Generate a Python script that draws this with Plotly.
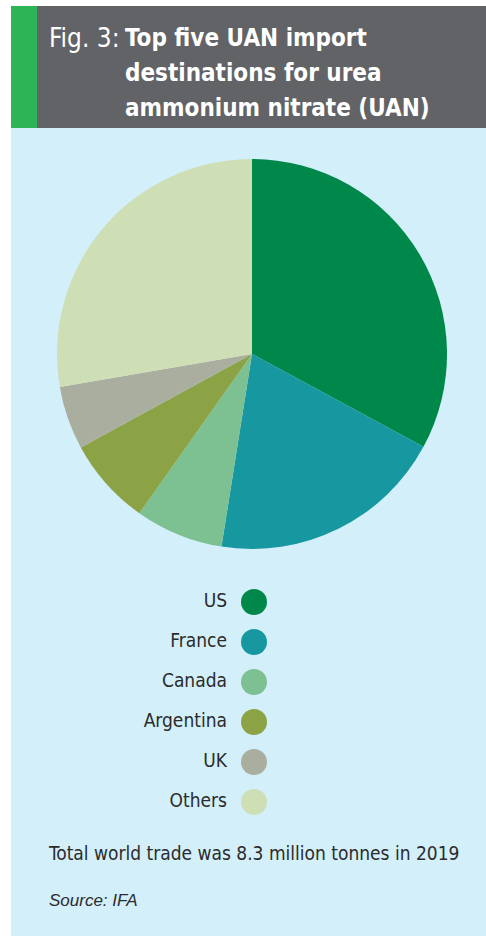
import plotly.graph_objects as go

countries = ["US", "France", "Canada", "Argentina", "UK", "Others"]
shares = [32.9, 19.6, 7.3, 7.25, 5.25, 27.7]
colors = ["#00884A", "#1797A0", "#7DC092", "#8CA345", "#A9AE9E", "#CFDFB5"]

W, H = 486, 936
NARROW = "'DejaVu Sans Condensed', 'Liberation Sans Narrow', 'Arial Narrow', sans-serif"

def px(x):
    return x / W

def py(y):
    return 1 - y / H

fig = go.Figure()

cx, cy, r = 252, 354, 195
fig.add_trace(go.Pie(
    labels=countries, values=shares, sort=False, direction="clockwise",
    rotation=0, textinfo="none", hoverinfo="label+percent",
    marker=dict(colors=colors, line=dict(width=0)),
    domain=dict(x=[px(cx - r), px(cx + r)], y=[py(cy + r), py(cy - r)]),
    showlegend=False,
))

rows = list(range(len(countries)))
# legend markers
fig.add_trace(go.Scatter(
    x=[0] * len(countries), y=rows, mode="markers",
    marker=dict(size=26, color=colors, line=dict(width=0)),
    hoverinfo="skip", showlegend=False, cliponaxis=False,
))
# legend labels (right-aligned, left of markers)
fig.add_trace(go.Scatter(
    x=[-0.27] * len(countries), y=rows, mode="text", text=countries,
    textposition="middle left",
    textfont=dict(family=NARROW, size=19, color="#2b2b2b"),
    hoverinfo="skip", showlegend=False, cliponaxis=False,
))

fig.update_layout(
    xaxis=dict(domain=[px(154), px(354)], range=[-1, 1], visible=False, fixedrange=True),
    yaxis=dict(domain=[py(822), py(582)], range=[5.5, -0.5], visible=False, fixedrange=True),
)

shapes = [
    dict(type="rect", xref="paper", yref="paper", x0=px(11), x1=1, y0=0, y1=py(128),
         fillcolor="#D3EFFA", line=dict(width=0), layer="below"),
    dict(type="rect", xref="paper", yref="paper", x0=px(11), x1=px(37), y0=py(128), y1=py(6),
         fillcolor="#2DB457", line=dict(width=0), layer="below"),
    dict(type="rect", xref="paper", yref="paper", x0=px(37), x1=1, y0=py(128), y1=py(6),
         fillcolor="#626366", line=dict(width=0), layer="below"),
]

title_font = dict(family=NARROW, size=24, color="white")
annotations = [
    dict(text="Fig. 3:", x=px(47), y=py(38), xref="paper", yref="paper",
         xanchor="left", yanchor="middle", showarrow=False,
         font=dict(family=NARROW, size=26, color="white")),
    dict(text="<b>Top five UAN import</b>", x=px(123), y=py(38), xref="paper", yref="paper",
         xanchor="left", yanchor="middle", showarrow=False, font=title_font),
    dict(text="<b>destinations for urea</b>", x=px(123), y=py(73), xref="paper", yref="paper",
         xanchor="left", yanchor="middle", showarrow=False, font=title_font),
    dict(text="<b>ammonium nitrate (UAN)</b>", x=px(123), y=py(108), xref="paper", yref="paper",
         xanchor="left", yanchor="middle", showarrow=False, font=title_font),
    dict(text="Total world trade was 8.3 million tonnes in 2019", x=px(46), y=py(853),
         xref="paper", yref="paper", xanchor="left", yanchor="middle", showarrow=False,
         font=dict(family=NARROW, size=19, color="#2b2b2b")),
    dict(text="<i>Source: IFA</i>", x=px(47), y=py(900),
         xref="paper", yref="paper", xanchor="left", yanchor="middle", showarrow=False,
         font=dict(family="Liberation Sans", size=17, color="#2b2b2b")),
]

fig.update_layout(
    width=W, height=H, margin=dict(l=0, r=0, t=0, b=0),
    paper_bgcolor="white", plot_bgcolor="rgba(0,0,0,0)",
    shapes=shapes, annotations=annotations, showlegend=False,
)

fig.write_html("out.html", config=dict(displayModeBar=False))
